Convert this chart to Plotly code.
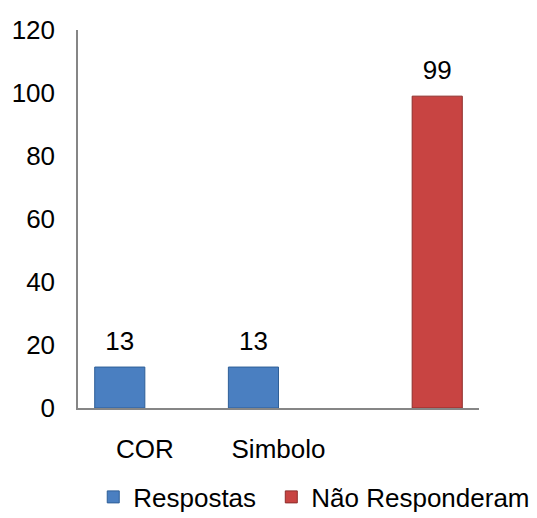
import plotly.graph_objects as go

# Data
categories = ["COR", "Simbolo", " "]
respostas = [13, 13, None]
nao_responderam = [None, None, 99]
y_ticks = [0, 20, 40, 60, 80, 100, 120]

LABEL_PAD = 2.5  # small lift so value labels sit a bit above the bars

fig = go.Figure()


def add_series(values, name, color, edge, group, legend):
    fig.add_trace(go.Bar(
        x=categories, y=values, name=name, offsetgroup=group, legend=legend,
        marker=dict(color=color, line=dict(color=edge, width=1)),
        hoverinfo="x+y"
    ))
    # invisible bar on top of each bar, carrying the value label
    fig.add_trace(go.Bar(
        x=categories, y=[LABEL_PAD if v is not None else None for v in values],
        base=values, offsetgroup=group, showlegend=False, hoverinfo="skip",
        marker=dict(color="rgba(0,0,0,0)", line=dict(width=0)),
        text=[str(v) if v is not None else "" for v in values],
        textposition="outside", cliponaxis=False,
        textfont=dict(size=26, color="black")
    ))


add_series(respostas, "Respostas", "#4A7FC1", "#2F5F97", "a", "legend")
add_series(nao_responderam, "Não Responderam", "#C84442", "#8E2D2B", "b", "legend2")

# the page body adds an 8px margin, so margins are shifted by 8px;
# figure is a bit larger than the window so the legends don't push the margins
fig.update_layout(
    width=560, height=530,
    barmode="group", bargap=0.25, bargroupgap=0,
    plot_bgcolor="white", paper_bgcolor="white",
    font=dict(family="Liberation Sans, Arial", size=26, color="black"),
    margin=dict(l=70, r=89, t=22, b=130),
    showlegend=True,
    legend=dict(x=0.038, xanchor="left", y=-0.2354, yanchor="middle",
                font=dict(size=26), itemwidth=30, bgcolor="rgba(0,0,0,0)"),
    legend2=dict(x=0.482, xanchor="left", y=-0.2354, yanchor="middle",
                 font=dict(size=26), itemwidth=30, bgcolor="rgba(0,0,0,0)"),
    xaxis=dict(showline=True, linecolor="#868686", linewidth=1.5,
               showgrid=False, ticks="outside", ticklen=17, automargin=False,
               tickcolor="rgba(0,0,0,0)", categoryorder="array", categoryarray=categories),
    yaxis=dict(range=[0, 120], tickvals=y_ticks, showline=True, linecolor="#868686",
               linewidth=1.5, showgrid=False, zeroline=False, ticks="outside",
               ticklen=16, tickcolor="rgba(0,0,0,0)", automargin=False),
)

fig.write_html("out.html")
